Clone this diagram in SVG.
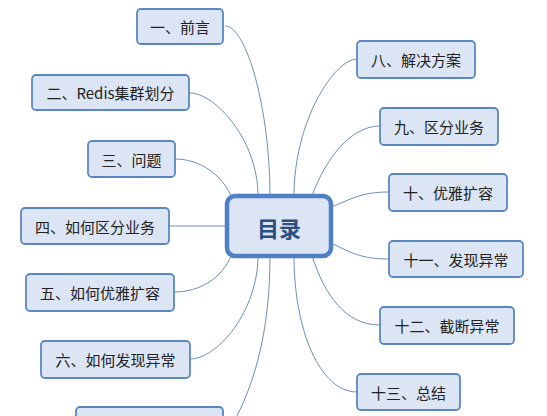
<svg xmlns="http://www.w3.org/2000/svg" width="547" height="416" viewBox="0 0 547 416">
<style>
.n rect{fill:#dbe5f3;stroke:#5b87c0;stroke-width:1.8}
.n text{font-family:"Noto Sans CJK SC","Liberation Sans",sans-serif;font-size:15px;fill:#222;text-anchor:middle;dominant-baseline:central}
.c path{fill:none;stroke:#6f8db5;stroke-width:1}
</style>
<rect width="547" height="416" fill="#fff"/>
<g class="c">
<path d="M225,26 C247,26 270,111 270,196"/>
<path d="M190,93 C215,93 258,140 258,196"/>
<path d="M175,159 C200,159 222,175 231,196"/>
<path d="M169,226 L227,226"/>
<path d="M174,292 C200,292 222,278 231,256"/>
<path d="M190,359 C218,359 258,310 258,256"/>
<path d="M237,416 C255,380 270,330 270,256"/>
<path d="M357,59 C335,59 294,120 294,196"/>
<path d="M380,126 C350,126 325,160 312,196"/>
<path d="M389,192 C360,192 350,200 331,207"/>
<path d="M389,259 C360,259 350,252 331,243"/>
<path d="M380,325 C345,325 325,295 312,256"/>
<path d="M357,392 C320,392 294,330 294,256"/>
</g>
<g id="center">
<rect x="227" y="196" width="104" height="60" rx="8" fill="#dbe5f3" stroke="#4f80c6" stroke-width="4.5"/>
<text x="279" y="227" font-family="Noto Sans CJK SC,Liberation Sans,sans-serif" font-size="22" font-weight="bold" fill="#2c4d7f" text-anchor="middle" dominant-baseline="central">目录</text>
</g>
<g id="n1" class="n"><rect x="137" y="9" width="86" height="35" rx="4"/><text x="180" y="26.5">一、前言</text></g>
<g id="n2" class="n"><rect x="32" y="75" width="157" height="35" rx="4"/><text x="110.5" y="92.5">二、Redis集群划分</text></g>
<g id="n3" class="n"><rect x="88" y="141" width="87" height="36" rx="4"/><text x="131.5" y="159">三、问题</text></g>
<g id="n4" class="n"><rect x="21" y="208" width="148" height="36" rx="4"/><text x="95" y="226">四、如何区分业务</text></g>
<g id="n5" class="n"><rect x="26" y="274" width="148" height="37" rx="4"/><text x="100" y="292.5">五、如何优雅扩容</text></g>
<g id="n6" class="n"><rect x="41" y="341" width="149" height="37" rx="4"/><text x="115.5" y="359.5">六、如何发现异常</text></g>
<g id="n7" class="n"><rect x="76" y="407" width="147" height="37" rx="4"/></g>
<g id="n8" class="n"><rect x="357" y="41" width="118" height="37" rx="4"/><text x="416" y="59.5">八、解决方案</text></g>
<g id="n9" class="n"><rect x="380" y="108" width="118" height="37" rx="4"/><text x="439" y="126.5">九、区分业务</text></g>
<g id="n10" class="n"><rect x="389" y="174" width="118" height="37" rx="4"/><text x="448" y="192.5">十、优雅扩容</text></g>
<g id="n11" class="n"><rect x="389" y="241" width="134" height="36" rx="4"/><text x="456" y="259">十一、发现异常</text></g>
<g id="n12" class="n"><rect x="380" y="307" width="134" height="37" rx="4"/><text x="447" y="325.5">十二、截断异常</text></g>
<g id="n13" class="n"><rect x="357" y="374" width="103" height="36" rx="4"/><text x="408.5" y="392">十三、总结</text></g>
</svg>
